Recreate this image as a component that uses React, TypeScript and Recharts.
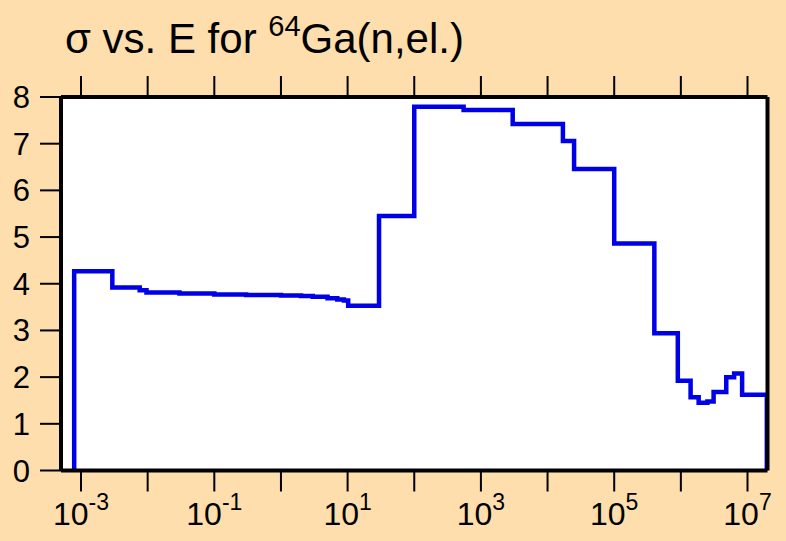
import { CartesianGrid, Line, LineChart, XAxis, YAxis } from "recharts";

// σ (barns) vs. neutron energy (eV)
const energies = [
  7.9e-4, 7.9e-4, 2.95e-3, 7.6e-3, 9.6e-3, 0.03, 0.1, 0.3, 1, 2, 3, 5, 7, 8.8,
  10.2, 29.6, 100, 550, 3000, 1.7e4, 2.5e4, 1e5, 4e5, 9e5, 1.4e6, 1.85e6, 2.5e6,
  3.1e6, 4.8e6, 6.3e6, 8.3e6, 1.95e7, 1.95e7,
];
const sigma = [
  0, 4.27, 3.92, 3.86, 3.81, 3.79, 3.77, 3.76, 3.75, 3.74, 3.72, 3.69, 3.66, 3.64,
  3.53, 5.45, 7.79, 7.72, 7.42, 7.06, 6.46, 4.86, 2.94, 1.92, 1.57, 1.45, 1.48,
  1.68, 2.0, 2.08, 1.62, 1.62, 0,
];

const decadeTicks = [1e-3, 1e-2, 1e-1, 1, 10, 100, 1e3, 1e4, 1e5, 1e6, 1e7];
const labelledExponents = [-3, -1, 1, 3, 5, 7];
const sigmaTicks = [0, 1, 2, 3, 4, 5, 6, 7, 8];
const energyDomain = [5.01e-4, 1.995e7];

const data = energies.map((e, i) => ({ e, s: sigma[i] }));

const FONT = "'Liberation Sans', Arial, sans-serif";
const BG = "#fddeac";
const axisLine = { stroke: "#000", strokeWidth: 4 };
const tickLine = { stroke: "#000", strokeWidth: 2 };

function DecadeTick({ x, y, payload }: { x: number; y: number; payload: { value: number } }) {
  const exp = Math.round(Math.log10(payload.value));
  if (!labelledExponents.includes(exp)) return <g />;
  return (
    <text x={x} y={y + 31.5} textAnchor="middle" fontFamily={FONT} fontSize={32} fill="#000">
      <tspan>10</tspan>
      <tspan dy={-15} fontSize={23}>
        {exp}
      </tspan>
    </text>
  );
}

export default function App() {
  return (
    <div style={{ position: "fixed", left: 0, top: 0, width: 786, height: 541, background: BG }}>
      <LineChart
        width={786}
        height={541}
        data={data}
        margin={{ top: 77, right: 0, bottom: 0, left: 0 }}
      >
        <CartesianGrid fill="#fff" horizontal={false} vertical={false} />
        <XAxis
          dataKey="e"
          type="number"
          scale="log"
          domain={energyDomain}
          allowDataOverflow
          ticks={decadeTicks}
          interval={0}
          height={70.5}
          tickSize={21}
          tickMargin={2}
          axisLine={axisLine}
          tickLine={tickLine}
          tick={DecadeTick}
        />
        <XAxis
          xAxisId="top"
          orientation="top"
          dataKey="e"
          type="number"
          scale="log"
          domain={energyDomain}
          allowDataOverflow
          ticks={decadeTicks}
          interval={0}
          height={20}
          tickSize={21}
          axisLine={axisLine}
          tickLine={tickLine}
          tickFormatter={() => ""}
        />
        <YAxis
          type="number"
          domain={[0, 8]}
          ticks={sigmaTicks}
          interval={0}
          width={61}
          tickSize={21}
          tickMargin={10}
          axisLine={axisLine}
          tickLine={tickLine}
          tick={{ fill: "#000", fontSize: 31, fontFamily: FONT }}
        />
        <YAxis
          yAxisId="right"
          orientation="right"
          type="number"
          domain={[0, 8]}
          ticks={sigmaTicks}
          interval={0}
          width={18.5}
          tickSize={21}
          axisLine={axisLine}
          tickLine={tickLine}
          tickFormatter={() => ""}
        />
        <Line
          type="stepAfter"
          dataKey="s"
          stroke="#0000e6"
          strokeWidth={4.5}
          dot={false}
          activeDot={false}
          isAnimationActive={false}
        />
      </LineChart>
      <svg
        width={786}
        height={80}
        style={{ position: "absolute", left: 0, top: 0, pointerEvents: "none" }}
      >
        <text x={65} y={53} fontFamily={FONT} fontSize={42} fill="#000">
          <tspan>σ vs. E for </tspan>
          <tspan dy={-17} fontSize={29}>
            64
          </tspan>
          <tspan dy={17}>Ga(n,el.)</tspan>
        </text>
      </svg>
    </div>
  );
}
